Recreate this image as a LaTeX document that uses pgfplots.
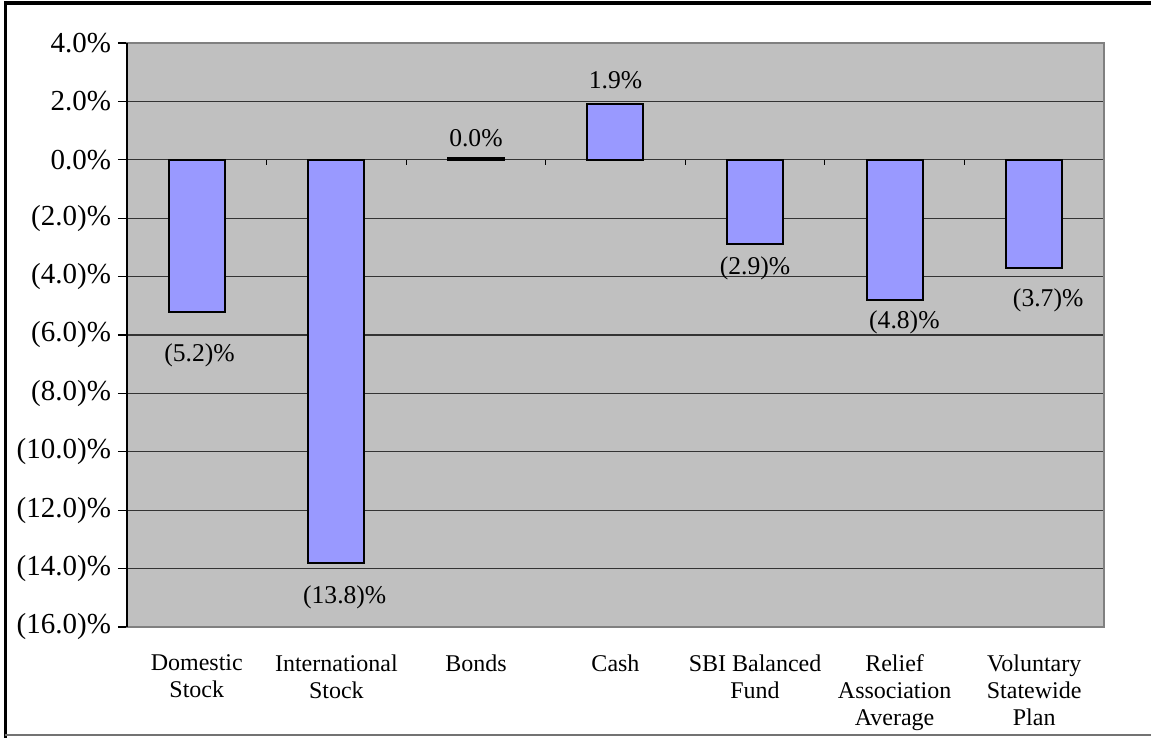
\documentclass[border=0pt]{standalone}
\usepackage{pgfplots}
\pgfplotsset{compat=1.18}
\usepackage{fontspec}
\setmainfont{Liberation Serif}
\definecolor{plotgray}{HTML}{C0C0C0}
\definecolor{barblue}{HTML}{9999FF}
\begin{document}
\begin{tikzpicture}[x=1pt,y=1pt]
\useasboundingbox (0,0) rectangle (575.5,369);
\begin{axis}[
  at={(63.5pt,55.5pt)}, anchor=south west,
  scale only axis, width=488.5pt, height=292pt,
  xmin=-0.5, xmax=6.5, ymin=-16, ymax=4,
  axis background/.style={fill=plotgray},
  axis line style={draw=black!50, line width=0.6pt},
  ymajorgrids, major grid style={draw=black!80, line width=0.6pt},
  ytick={-16,-14,-12,-10,-8,-6,-4,-2,0,2,4},
  yticklabels={(16.0)\%,(14.0)\%,(12.0)\%,(10.0)\%,(8.0)\%,(6.0)\%,(4.0)\%,(2.0)\%,0.0\%,2.0\%,4.0\%},
  ytick pos=left, tick align=outside, major tick length=4.5pt,
  major tick style={draw=black, line width=0.6pt},
  xtick={0,1,2,3,4,5,6},
  xticklabels={Domestic\\Stock, International\\Stock, Bonds, Cash, SBI Balanced\\Fund, Relief\\Association\\Average, Voluntary\\Statewide\\Plan},
  xtick style={draw=none},
  xticklabel style={align=center, anchor=north, yshift=-6pt, font=\fontsize{12}{13.5}\selectfont},
  yticklabel style={xshift=0pt, font=\fontsize{14.5}{16}\selectfont},
  every node near coord/.append style={font=\fontsize{12.8}{14}\selectfont},
  clip=false,
  after end axis/.code={
    \draw[black, line width=0.8pt] (rel axis cs:0,0) -- (rel axis cs:0,1);
    \foreach \i in {0.5,1.5,2.5,3.5,4.5,5.5}{
      \draw[black, line width=0.6pt] (axis cs:\i,0) -- ++(0,-2.5pt);
    }
  },
]
\addplot[ybar, bar width=28pt, fill=barblue, draw=black, line width=1pt] coordinates {
  (0,-5.2) (1,-13.8) (2,0.05) (3,1.9) (4,-2.9) (5,-4.8) (6,-3.7)
};
\addplot[draw=none, mark=none, nodes near coords, point meta=explicit symbolic,
  nodes near coords style={anchor=center}] table[x=x, y=y, meta=label] {
x y label
0.02 -6.69 (5.2)\%
1.06 -15.0 (13.8)\%
2.0 0.74 0.0\%
3.0 2.72 1.9\%
4.0 -3.72 (2.9)\%
5.07 -5.56 (4.8)\%
6.10 -4.81 (3.7)\%
};
\end{axis}
\draw[black, line width=2pt] (2.5,367.5) -- (575.5,367.5);
\draw[black, line width=1.5pt] (2.5,368.5) -- (2.5,0);
\draw[black!55, line width=0.75pt] (2.5,1.5) -- (575.5,1.5);
\end{tikzpicture}
\end{document}
